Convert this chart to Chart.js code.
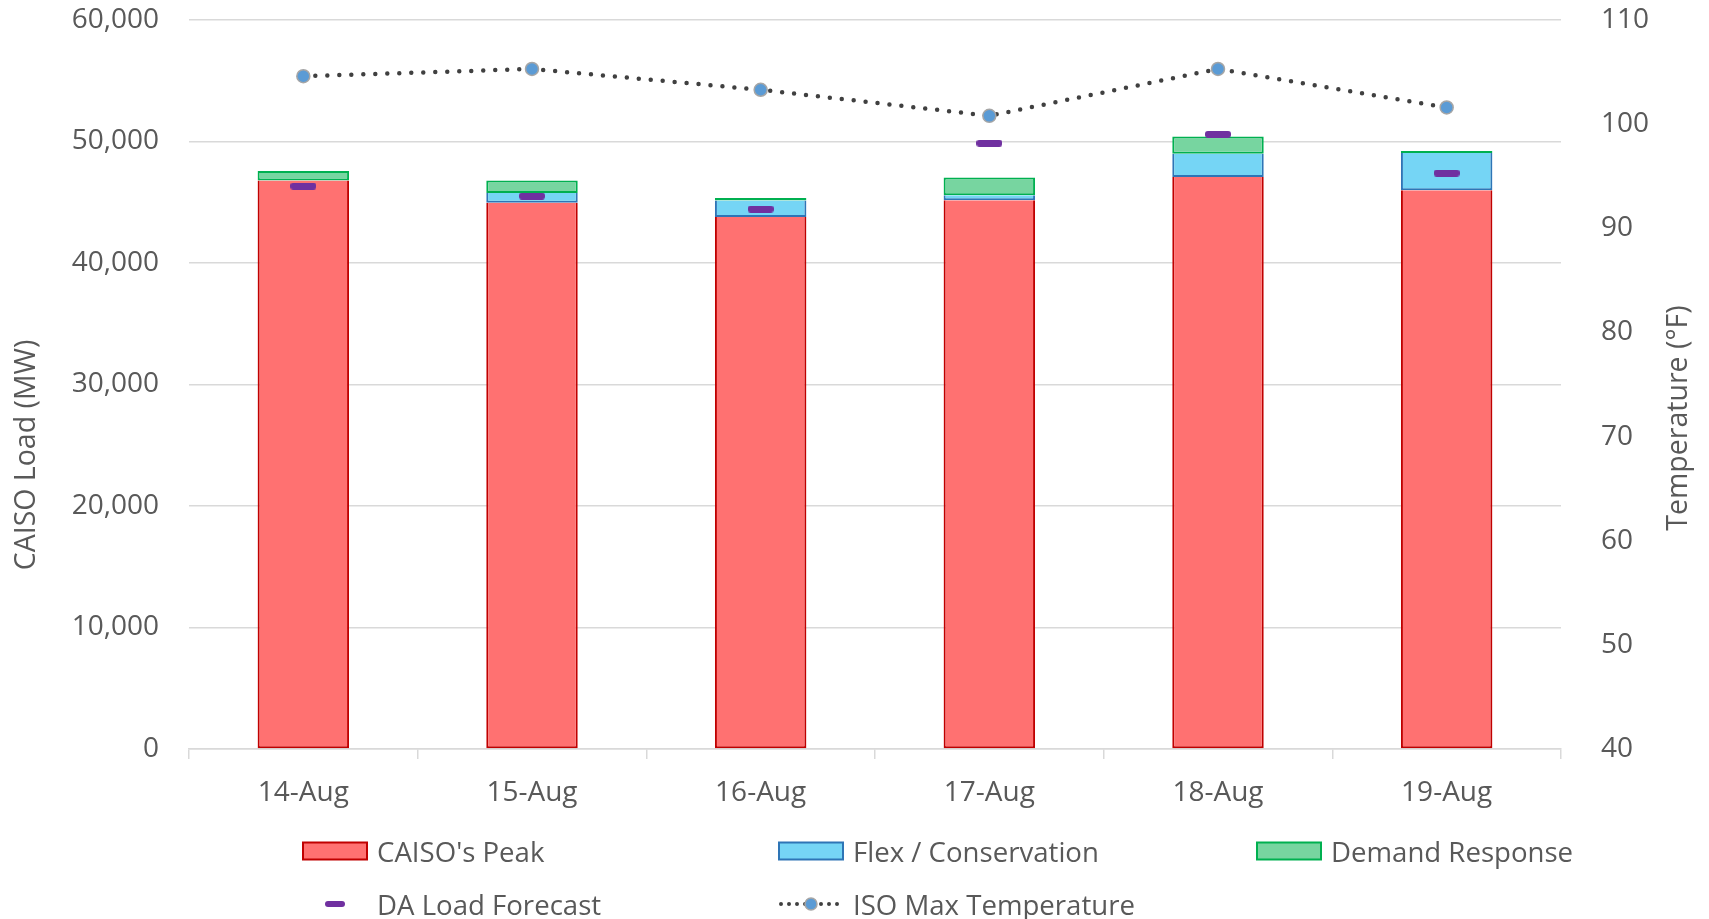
<!DOCTYPE html>
<html>
<head>
<meta charset="utf-8">
<title>CAISO Load and Temperature</title>
<script src="https://cdn.jsdelivr.net/npm/chart.js@4.4.1/dist/chart.umd.min.js"></script>
<style>
  html, body { margin: 0; padding: 0; background: #fff; }
  #wrap { position: relative; width: 1709px; height: 919px; font-family: "Open Sans", sans-serif; color: #595959; overflow: hidden; }
  #chart { position: absolute; left: 0; top: 0; }
  .legend-item { position: absolute; height: 40px; display: flex; align-items: center; font-size: 27.6px; white-space: nowrap; }
  .legend-item canvas { display: block; margin-right: 9px; }
</style>
</head>
<body>
<div id="wrap">
  <canvas id="chart" width="1709" height="919"></canvas>
  <div id="legend"></div>
</div>
<script>
// Daily peak data, 14–19 August
const days = ['14-Aug', '15-Aug', '16-Aug', '17-Aug', '18-Aug', '19-Aug'];
const caisoPeak = [46780, 44960, 43780, 45160, 47070, 45980];
const flexConservation = [0, 800, 1370, 410, 1930, 3070];
const demandResponse = [800, 1040, 190, 1460, 1420, 160];
const daLoadForecast = [46330, 45510, 44440, 49860, 50590, 47400];
const isoMaxTemp = [104.6, 105.3, 103.3, 100.8, 105.3, 101.6];

const TEXT = '#595959';
const GRID = '#D9D9D9';
const FONT = '"Open Sans", sans-serif';

const colors = {
  peak: { fill: '#FF7171', border: '#C00000' },
  flex: { fill: '#75D5F5', border: '#2E75B6' },
  dr:   { fill: '#77D5A0', border: '#00B050' },
  da:   '#7030A0',
  tempLine: '#404040',
  tempDot: '#5B9BD5',
  tempDotBorder: '#A6A6A6'
};

// Short rounded dash used as the forecast marker
function forecastMarker() {
  const c = document.createElement('canvas');
  c.width = 26; c.height = 7;
  const g = c.getContext('2d');
  g.fillStyle = colors.da;
  g.beginPath();
  g.roundRect(0, 0, 26, 7, 3);
  g.fill();
  return c;
}

// Rotated axis titles (both read bottom-to-top)
const axisTitles = {
  id: 'axisTitles',
  afterDraw(chart) {
    const ctx = chart.ctx;
    const draw = (text, x, y) => {
      ctx.save();
      ctx.translate(x, y);
      ctx.rotate(-Math.PI / 2);
      ctx.fillText(text, 0, 0);
      ctx.restore();
    };
    ctx.save();
    ctx.font = '28.5px ' + FONT;
    ctx.fillStyle = TEXT;
    ctx.textAlign = 'center';
    ctx.textBaseline = 'middle';
    draw('CAISO Load (MW)', 27, 455);
    draw('Temperature (°F)', 1679, 418);
    ctx.restore();
  }
};

Chart.defaults.font.family = FONT;
Chart.defaults.font.size = 28;
Chart.defaults.color = TEXT;

const barCommon = {
  type: 'bar',
  yAxisID: 'y',
  stack: 'load',
  borderWidth: 2,
  categoryPercentage: 0.8,
  barPercentage: 0.5,
  order: 3
};

// Value axes keep a fixed width and do not reserve extra room above/below the plot
function fixValueAxis(width) {
  return function (scale) {
    scale.width = width;
    scale.paddingTop = 0;
    scale.paddingBottom = 0;
  };
}

const chart = new Chart(document.getElementById('chart'), {
  data: {
    labels: days,
    datasets: [
      Object.assign({}, barCommon, {
        label: "CAISO's Peak", data: caisoPeak,
        backgroundColor: colors.peak.fill, borderColor: colors.peak.border,
        borderSkipped: 'top'
      }),
      Object.assign({}, barCommon, {
        label: 'Flex / Conservation', data: flexConservation,
        backgroundColor: colors.flex.fill, borderColor: colors.flex.border,
        borderSkipped: 'top'
      }),
      Object.assign({}, barCommon, {
        label: 'Demand Response', data: demandResponse,
        backgroundColor: colors.dr.fill, borderColor: colors.dr.border,
        borderSkipped: false
      }),
      {
        type: 'line', label: 'DA Load Forecast', data: daLoadForecast,
        yAxisID: 'y', stack: 'forecast', showLine: false,
        pointStyle: forecastMarker(), pointRadius: 5,
        order: 1
      },
      {
        type: 'line', label: 'ISO Max Temperature', data: isoMaxTemp,
        yAxisID: 'y1', tension: 0,
        borderColor: colors.tempLine, borderWidth: 4.5,
        borderDash: [0, 12], borderCapStyle: 'round',
        pointRadius: 6.5, pointBorderWidth: 1.5,
        pointBackgroundColor: colors.tempDot, pointBorderColor: colors.tempDotBorder,
        order: 0
      }
    ]
  },
  options: {
    responsive: false,
    animation: false,
    events: [],
    layout: { padding: { top: 20, left: 0, right: 0, bottom: 0 } },
    plugins: { legend: { display: false }, tooltip: { enabled: false } },
    scales: {
      x: {
        stacked: true,
        offset: true,
        grid: { offset: true, drawOnChartArea: false, drawTicks: true, tickLength: 10, color: GRID, lineWidth: 1.5 },
        border: { display: true, color: GRID, width: 1.5 },
        ticks: { padding: 17, maxRotation: 0, color: TEXT },
        afterFit(scale) { scale.height = 170; scale.paddingLeft = 0; scale.paddingRight = 0; }
      },
      y: {
        position: 'left',
        stacked: true,
        min: 0, max: 60000,
        ticks: {
          stepSize: 10000, padding: 30, color: TEXT,
          callback: v => v.toLocaleString('en-US')
        },
        grid: { color: GRID, lineWidth: 1.5, drawTicks: false },
        border: { display: false },
        afterFit: fixValueAxis(189)
      },
      y1: {
        position: 'right',
        stacked: false,
        min: 40, max: 110,
        ticks: { stepSize: 10, padding: 32, color: TEXT },
        grid: { display: false },
        border: { display: false },
        afterFit: fixValueAxis(148)
      }
    }
  },
  plugins: [axisTitles]
});

// Legend laid out as a three-column grid under the plot
function legendSymbol(kind) {
  const c = document.createElement('canvas');
  c.width = 66; c.height = 20;
  const g = c.getContext('2d');
  if (kind.box) {
    g.fillStyle = kind.box.fill;
    g.fillRect(1, 1.5, 64, 17);
    g.strokeStyle = kind.box.border;
    g.lineWidth = 2;
    g.strokeRect(1, 1.5, 64, 17);
  } else if (kind.dash) {
    g.fillStyle = colors.da;
    g.beginPath();
    g.roundRect(23, 7, 20, 6, 3);
    g.fill();
  } else if (kind.dotted) {
    g.strokeStyle = colors.tempLine;
    g.lineWidth = 4;
    g.lineCap = 'round';
    g.setLineDash([0, 8]);
    g.beginPath();
    g.moveTo(3, 10); g.lineTo(64, 10);
    g.stroke();
    g.setLineDash([]);
    g.beginPath();
    g.arc(33, 10, 6, 0, Math.PI * 2);
    g.fillStyle = colors.tempDot;
    g.fill();
    g.lineWidth = 1.5;
    g.strokeStyle = colors.tempDotBorder;
    g.stroke();
  }
  return c;
}

const legendItems = [
  { text: "CAISO's Peak", left: 302, cy: 851, kind: { box: colors.peak } },
  { text: 'Flex / Conservation', left: 778, cy: 851, kind: { box: colors.flex } },
  { text: 'Demand Response', left: 1256, cy: 851, kind: { box: colors.dr } },
  { text: 'DA Load Forecast', left: 302, cy: 904, kind: { dash: true } },
  { text: 'ISO Max Temperature', left: 778, cy: 904, kind: { dotted: true } }
];
const legendEl = document.getElementById('legend');
legendItems.forEach(it => {
  const d = document.createElement('div');
  d.className = 'legend-item';
  d.style.left = it.left + 'px';
  d.style.top = (it.cy - 20) + 'px';
  d.appendChild(legendSymbol(it.kind));
  const s = document.createElement('span');
  s.textContent = it.text;
  d.appendChild(s);
  legendEl.appendChild(d);
});
</script>
</body>
</html>
